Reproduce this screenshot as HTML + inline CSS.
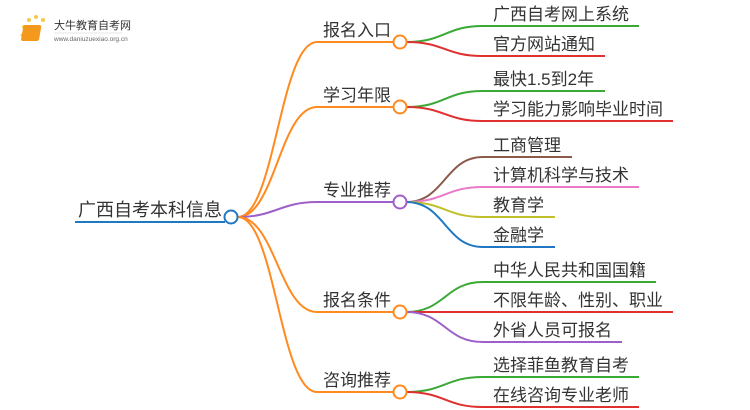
<!DOCTYPE html>
<html><head><meta charset="utf-8"><style>
body{margin:0;background:#fff;}
svg{display:block;}
text{font-family:"Liberation Sans","Noto Sans CJK SC",sans-serif;font-size:17px;fill:#333;}
</style></head><body>
<svg width="750" height="410" viewBox="0 0 750 410">
<g>
<circle cx="24" cy="27" r="2" fill="#f7c84a"/><circle cx="29" cy="20" r="2" fill="#f7c84a"/><circle cx="36" cy="17" r="2" fill="#f7c84a"/><circle cx="43" cy="20" r="2" fill="#f7c84a"/><circle cx="22" cy="35" r="1.5" fill="#f7c84a"/>
<rect x="28" y="25" width="18" height="16" rx="2" fill="#f39a1e" transform="skewX(-10)"/>
<text x="54" y="29" style="font-size:11px;fill:#333">大牛教育自考网</text>
<line x1="54" y1="33" x2="122" y2="33" stroke="#ccc" stroke-width="0.6"/>
<text x="54" y="41" style="font-size:6.5px;fill:#666">www.daniuzuexiao.org.cn</text>
</g>
<g fill="none" stroke-width="2">
<line x1="75" y1="222" x2="225" y2="222" stroke="#1f78c1"/>
<path d="M238 217 C275 217,280 42,317 42 L394 42" stroke="#ff8a1f"/>
<path d="M238 217 C275 217,280 107,317 107 L394 107" stroke="#ff8a1f"/>
<path d="M238 217 C275 217,280 202,317 202 L394 202" stroke="#9d5fc9"/>
<path d="M238 217 C275 217,280 312,317 312 L394 312" stroke="#ff8a1f"/>
<path d="M238 217 C275 217,280 392,317 392 L394 392" stroke="#ff8a1f"/>
<path d="M406 42 C445 42,445 26,483 26 L639 26" stroke="#3aa935"/>
<path d="M406 42 C445 42,445 56,483 56 L605 56" stroke="#e03030"/>
<path d="M406 107 C445 107,445 91,483 91 L605 91" stroke="#3aa935"/>
<path d="M406 107 C445 107,445 121,483 121 L673 121" stroke="#e03030"/>
<path d="M406 202 C445 202,445 157,483 157 L572 157" stroke="#8b5a4a"/>
<path d="M406 202 C445 202,445 187,483 187 L639 187" stroke="#ea7ac8"/>
<path d="M406 202 C445 202,445 217,483 217 L555 217" stroke="#c0c02a"/>
<path d="M406 202 C445 202,445 247,483 247 L555 247" stroke="#1f78c1"/>
<path d="M406 312 C445 312,445 282,483 282 L656 282" stroke="#3aa935"/>
<path d="M406 312 C445 312,445 312,483 312 L673 312" stroke="#e03030"/>
<path d="M406 312 C445 312,445 342,483 342 L622 342" stroke="#9d5fc9"/>
<path d="M406 392 C445 392,445 377,483 377 L639 377" stroke="#3aa935"/>
<path d="M406 392 C445 392,445 407,483 407 L639 407" stroke="#e03030"/>
<circle cx="231" cy="217" r="6.5" fill="#fff" stroke="#1f78c1"/>
<circle cx="400" cy="42" r="6.5" fill="#fff" stroke="#ff8a1f"/>
<circle cx="400" cy="107" r="6.5" fill="#fff" stroke="#ff8a1f"/>
<circle cx="400" cy="202" r="6.5" fill="#fff" stroke="#9d5fc9"/>
<circle cx="400" cy="312" r="6.5" fill="#fff" stroke="#ff8a1f"/>
<circle cx="400" cy="392" r="6.5" fill="#fff" stroke="#ff8a1f"/>
</g>
<text x="78" y="216" style="font-size:18px">广西自考本科信息</text>
<text x="323" y="36">报名入口</text>
<text x="323" y="101">学习年限</text>
<text x="323" y="196">专业推荐</text>
<text x="323" y="306">报名条件</text>
<text x="323" y="386">咨询推荐</text>
<text x="493" y="20">广西自考网上系统</text>
<text x="493" y="50">官方网站通知</text>
<text x="493" y="85">最快1.5到2年</text>
<text x="493" y="115">学习能力影响毕业时间</text>
<text x="493" y="151">工商管理</text>
<text x="493" y="181">计算机科学与技术</text>
<text x="493" y="211">教育学</text>
<text x="493" y="241">金融学</text>
<text x="493" y="276">中华人民共和国国籍</text>
<text x="493" y="306">不限年龄、性别、职业</text>
<text x="493" y="336">外省人员可报名</text>
<text x="493" y="371">选择菲鱼教育自考</text>
<text x="493" y="401">在线咨询专业老师</text>
</svg>
</body></html>
